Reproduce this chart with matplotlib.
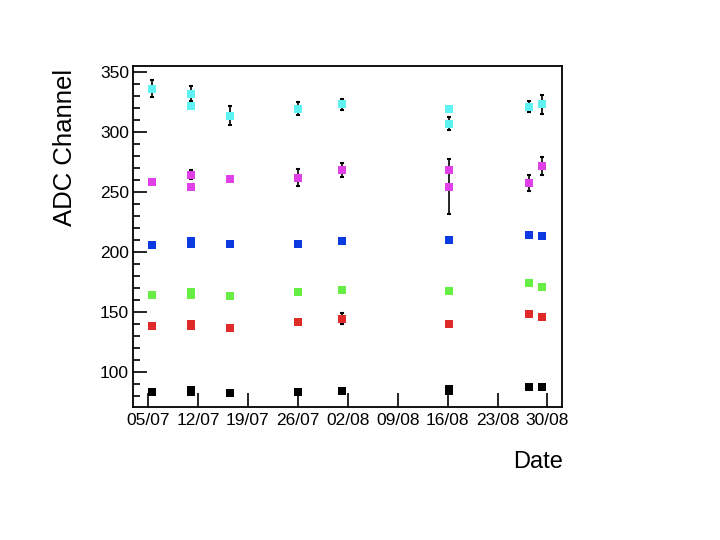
import pandas as pd
import matplotlib
matplotlib.use("Agg")
import matplotlib.pyplot as plt
import matplotlib.dates as mdates
from matplotlib.ticker import MultipleLocator, FixedLocator

plt.rcParams["font.family"] = ["Liberation Sans", "DejaVu Sans"]

# measurement dates (two entries on 11/07 and 16/08)
dates = pd.to_datetime([
    "2012-07-05 12:00", "2012-07-11 02:00", "2012-07-11 02:00",
    "2012-07-16 12:00", "2012-07-26 02:00", "2012-08-01 05:00",
    "2012-08-16 05:00", "2012-08-16 05:00", "2012-08-27 10:00",
    "2012-08-29 05:00",
])
tick_dates = pd.to_datetime([
    "2012-07-05", "2012-07-12", "2012-07-19", "2012-07-26", "2012-08-02",
    "2012-08-09", "2012-08-16", "2012-08-23", "2012-08-30",
])

cyan_vals = [336, 332, 322, 313.6, 319.4, 323, 319.4, 307, 321, 323]
cyan_errs = [7, 6, 0, 7.8, 5.5, 4.7, 0, 5.5, 4.4, 8]
magenta_vals = [258.3, 264.4, 254.4, 261, 262, 268.3, 268.3, 254.4, 257.2, 271.7]
magenta_errs = [0, 3.9, 0, 0, 7, 6, 0, 23, 6.7, 7.8]
blue_vals = [205.6, 207, 209.5, 206.4, 206.4, 209.5, 210.3, 210.3, 214.4, 213.6]
blue_errs = [0] * 10
green_vals = [164.2, 164.5, 167, 163.3, 166.7, 168.3, 167.8, 167.8, 174.7, 171.1]
green_errs = [0] * 10
red_vals = [138.6, 138.5, 140.5, 137.2, 142.2, 144.7, 140, 140, 148.6, 146.1]
red_errs = [0, 0, 0, 0, 0, 4.9, 0, 0, 0, 0]
black_vals = [84, 84, 85.5, 83, 84, 84.7, 84.8, 86.2, 87.5, 87.5]
black_errs = [0] * 10

series = [
    (black_vals, black_errs, "#000000"),
    (red_vals, red_errs, "#e02a2a"),
    (green_vals, green_errs, "#66ee44"),
    (blue_vals, blue_errs, "#0a3ae0"),
    (magenta_vals, magenta_errs, "#e040e8"),
    (cyan_vals, cyan_errs, "#5ef2f2"),
]

fig = plt.figure(figsize=(7.2, 5.4), dpi=100)
ax = fig.add_axes([0.185, 0.246, 0.596, 0.632])

for vals, errs, color in series:
    ax.errorbar(dates, vals, yerr=errs, fmt="none", ecolor="black",
                elinewidth=1.2, capsize=1.5, capthick=1.5, zorder=2)
    ax.plot(dates, vals, "s", color=color, markersize=5.5,
            markeredgewidth=0, zorder=3)

ax.set_xlim(pd.Timestamp("2012-07-02 22:00"), pd.Timestamp("2012-09-01 02:00"))
ax.set_ylim(71, 355)
ax.xaxis.set_major_locator(FixedLocator(mdates.date2num(tick_dates)))
ax.xaxis.set_major_formatter(mdates.DateFormatter("%d/%m"))
ax.yaxis.set_major_locator(MultipleLocator(50))
ax.yaxis.set_minor_locator(MultipleLocator(10))

ax.tick_params(axis="both", direction="in", labelsize=12.5, width=1.2, color="black")
ax.tick_params(axis="y", which="major", length=10, pad=3)
ax.tick_params(axis="y", which="minor", length=5, width=1.2, direction="in")
ax.tick_params(axis="x", which="major", length=10, pad=4)
for s in ax.spines.values():
    s.set_linewidth(1.3)

ax.set_ylabel("ADC Channel", fontsize=18.5, labelpad=6)
ax.yaxis.set_label_coords(-0.13, 0.76)
fig.text(0.782, 0.125, "Date", fontsize=17, ha="right", va="bottom")

fig.savefig("out.png", dpi=100)
